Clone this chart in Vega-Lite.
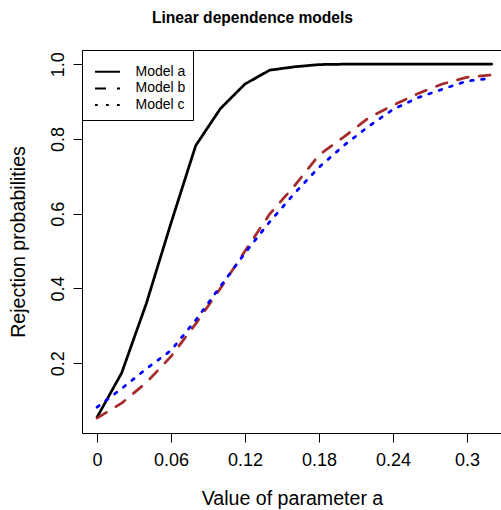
{
  "$schema": "https://vega.github.io/schema/vega-lite/v6.json",
  "autosize": {"type": "none"},
  "padding": {"left": 82, "top": 50, "right": -1, "bottom": 77},
  "width": 420,
  "height": 383,
  "background": "white",
  "title": {
    "text": "Linear dependence models",
    "font": "Liberation Sans",
    "fontSize": 15.6,
    "fontWeight": "bold",
    "color": "black",
    "anchor": "middle",
    "frame": "group",
    "baseline": "alphabetic",
    "offset": 11,
    "dx": -39.5
  },
  "config": {
    "view": {"stroke": "black", "strokeWidth": 1},
    "font": "Liberation Sans",
    "axis": {
      "grid": false,
      "domain": false,
      "tickColor": "black",
      "tickSize": 9,
      "tickWidth": 1,
      "labelColor": "black",
      "labelFont": "Liberation Sans",
      "labelFontSize": 18,
      "titleColor": "black",
      "titleFont": "Liberation Sans",
      "titleFontSize": 19.6,
      "titleFontWeight": "normal"
    },
    "legend": {
      "titleFontSize": 1,
      "titleColor": "transparent",
      "titlePadding": 5.7,
      "titleLimit": 10,
      "orient": "none",
      "legendX": 0,
      "legendY": 0,
      "padding": 7.5,
      "strokeColor": "black",
      "strokeWidth": 1,
      "fillColor": "white",
      "cornerRadius": 0,
      "symbolType": "M-2,0L2,0",
      "symbolSize": 156.25,
      "symbolStrokeWidth": 2,
      "symbolStrokeColor": "black",
      "symbolFillColor": "transparent",
      "symbolOffset": 10.5,
      "labelOffset": 20.5,
      "labelFont": "Liberation Sans",
      "labelFontSize": 14,
      "labelColor": "black",
      "rowPadding": 1.7
    }
  },
  "data": {
    "values": [
      {"a": 0.00, "model": "Model a", "p": 0.055},
      {"a": 0.02, "model": "Model a", "p": 0.174},
      {"a": 0.04, "model": "Model a", "p": 0.36},
      {"a": 0.06, "model": "Model a", "p": 0.575},
      {"a": 0.08, "model": "Model a", "p": 0.782},
      {"a": 0.10, "model": "Model a", "p": 0.881},
      {"a": 0.12, "model": "Model a", "p": 0.947},
      {"a": 0.14, "model": "Model a", "p": 0.984},
      {"a": 0.16, "model": "Model a", "p": 0.993},
      {"a": 0.18, "model": "Model a", "p": 0.999},
      {"a": 0.20, "model": "Model a", "p": 1.0},
      {"a": 0.22, "model": "Model a", "p": 1.0},
      {"a": 0.24, "model": "Model a", "p": 1.0},
      {"a": 0.26, "model": "Model a", "p": 1.0},
      {"a": 0.28, "model": "Model a", "p": 1.0},
      {"a": 0.30, "model": "Model a", "p": 1.0},
      {"a": 0.32, "model": "Model a", "p": 1.0},
      {"a": 0.00, "model": "Model b", "p": 0.053},
      {"a": 0.02, "model": "Model b", "p": 0.093},
      {"a": 0.04, "model": "Model b", "p": 0.148},
      {"a": 0.06, "model": "Model b", "p": 0.218},
      {"a": 0.08, "model": "Model b", "p": 0.305},
      {"a": 0.10, "model": "Model b", "p": 0.40},
      {"a": 0.12, "model": "Model b", "p": 0.50},
      {"a": 0.14, "model": "Model b", "p": 0.599},
      {"a": 0.16, "model": "Model b", "p": 0.674},
      {"a": 0.18, "model": "Model b", "p": 0.757},
      {"a": 0.20, "model": "Model b", "p": 0.805},
      {"a": 0.22, "model": "Model b", "p": 0.856},
      {"a": 0.24, "model": "Model b", "p": 0.89},
      {"a": 0.26, "model": "Model b", "p": 0.921},
      {"a": 0.28, "model": "Model b", "p": 0.947},
      {"a": 0.30, "model": "Model b", "p": 0.965},
      {"a": 0.32, "model": "Model b", "p": 0.971},
      {"a": 0.00, "model": "Model c", "p": 0.082},
      {"a": 0.02, "model": "Model c", "p": 0.132},
      {"a": 0.04, "model": "Model c", "p": 0.185},
      {"a": 0.06, "model": "Model c", "p": 0.234},
      {"a": 0.08, "model": "Model c", "p": 0.315},
      {"a": 0.10, "model": "Model c", "p": 0.405},
      {"a": 0.12, "model": "Model c", "p": 0.495},
      {"a": 0.14, "model": "Model c", "p": 0.578},
      {"a": 0.16, "model": "Model c", "p": 0.654},
      {"a": 0.18, "model": "Model c", "p": 0.724},
      {"a": 0.20, "model": "Model c", "p": 0.782},
      {"a": 0.22, "model": "Model c", "p": 0.833},
      {"a": 0.24, "model": "Model c", "p": 0.879},
      {"a": 0.26, "model": "Model c", "p": 0.91},
      {"a": 0.28, "model": "Model c", "p": 0.933},
      {"a": 0.30, "model": "Model c", "p": 0.955},
      {"a": 0.32, "model": "Model c", "p": 0.962}
    ]
  },
  "mark": {"type": "line", "color": "black", "strokeWidth": 2.75, "strokeCap": "round", "strokeJoin": "round", "clip": true},
  "encoding": {
    "x": {
      "field": "a",
      "type": "quantitative",
      "scale": {"domain": [-0.0122, 0.3284], "nice": false, "zero": false},
      "axis": {
        "values": [0, 0.06, 0.12, 0.18, 0.24, 0.3],
        "format": "~g",
        "labelBaseline": "alphabetic",
        "labelPadding": 23,
        "labelFlush": false,
        "labelOverlap": false,
        "title": "Value of parameter a",
        "titleBaseline": "alphabetic",
        "titleY": 71
      }
    },
    "y": {
      "field": "p",
      "type": "quantitative",
      "scale": {"domain": [0.013, 1.038], "nice": false, "zero": false},
      "axis": {
        "values": [0.2, 0.4, 0.6, 0.8, 1.0],
        "format": ".1f",
        "labelAngle": 270,
        "labelAlign": "center",
        "labelBaseline": "alphabetic",
        "labelPadding": 9.7,
        "labelFlush": false,
        "labelOverlap": false,
        "title": "Rejection probabilities",
        "titleAngle": 270,
        "titleAlign": "center",
        "titleBaseline": "alphabetic",
        "titleX": -58,
        "titleY": 191.5
      }
    },
    "color": {
      "field": "model",
      "type": "nominal",
      "scale": {"domain": ["Model c", "Model b", "Model a"], "range": ["#0000FF", "#A52A2A", "#000000"]},
      "legend": null
    },
    "strokeDash": {
      "field": "model",
      "type": "nominal",
      "scale": {"domain": ["Model a", "Model b", "Model c"], "range": [[1, 0], [11, 11], [2.75, 8.25]]},
      "legend": {
        "title": "Models",
        "encode": {"symbols": {"update": {"stroke": {"value": "black"}, "strokeWidth": {"value": 2}}}}
      }
    }
  }
}
